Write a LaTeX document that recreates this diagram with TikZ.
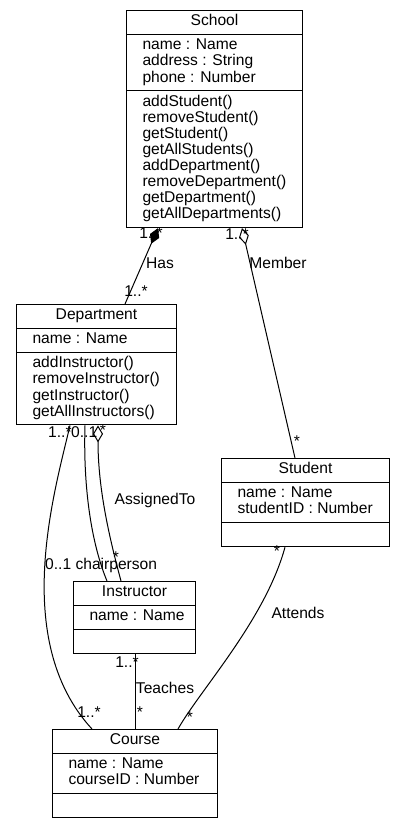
\documentclass[tikz,border=0pt]{standalone}
\usepackage{fontspec}
\setmainfont{Liberation Sans}
\usetikzlibrary{shapes.multipart,arrows.meta}
\newcommand{\umlfont}{\fontsize{15.6}{16}\selectfont}
\newcommand{\members}[1]{\begin{tabular}{@{\hspace{6pt}}l@{}}#1\end{tabular}}
\tikzset{
  umlclass/.style={draw, line width=1pt, rectangle split, rectangle split parts=3,
    rectangle split part align={center,left,left}, inner xsep=10pt, inner ysep=3.5pt,
    anchor=north west, font=\umlfont},
  mult/.style={inner sep=0pt, font=\umlfont},
  assoc/.style={line width=1pt},
}
\begin{document}
\begin{tikzpicture}[x=1pt,y=-1pt]
    \useasboundingbox (0,0) rectangle (405,829);
    % Classes
    \node[umlclass, minimum width=176pt] (school) at (126,10)
        {\strut School
         \nodepart{second}\members{name : Name\\ address : String\\ phone : Number}
         \nodepart{third}\members{addStudent()\\ removeStudent()\\ getStudent()\\ getAllStudents()\\
            addDepartment()\\ removeDepartment()\\ getDepartment()\\ getAllDepartments()}};
    \node[umlclass, minimum width=160pt] (department) at (16,304)
        {\strut Department
         \nodepart{second}\members{name : Name}
         \nodepart{third}\members{addInstructor()\\ removeInstructor()\\ getInstructor()\\ getAllInstructors()}};
    \node[umlclass, minimum width=168pt] (student) at (221,458)
        {\strut Student
         \nodepart{second}\members{name : Name\\ studentID : Number}
         \nodepart{third}\strut};
    \node[umlclass, minimum width=122pt] (instructor) at (73,581)
        {\strut Instructor
         \nodepart{second}\members{name : Name}
         \nodepart{third}\strut};
    \node[umlclass, minimum width=165pt] (course) at (52,729)
        {\strut Course
         \nodepart{second}\members{name : Name\\ courseID : Number}
         \nodepart{third}\strut};
    % Multiplicities and association names
    \node[mult] (hasS) at (151,233) {1..*};
    \node[mult] (hasD) at (136,291) {1..*};
    \node[mult] (has) at (160,263) {Has};
    \node[mult] (memS) at (237,234) {1..*};
    \node[mult] (member) at (278,263) {Member};
    \node[mult] (memT) at (297,441) {*};
    \node[mult, anchor=west] (dcD) at (48,432) {1..*};
    \node[mult, anchor=west] (chD) at (71,432) {0..1};
    \node[mult] (asD) at (103,430) {*};
    \node[mult] (assigned) at (155,500) {AssignedTo};
    \node[mult, anchor=west] (chI) at (45,565) {0..1 chairperson};
    \node[mult] (asI) at (116,557) {*};
    \node[mult] (dcC) at (89,712) {1..*};
    \node[mult] (tI) at (127,662) {1..*};
    \node[mult] (teaches) at (165,688) {Teaches};
    \node[mult] (tC) at (140,712) {*};
    \node[mult] (atS) at (277,551) {*};
    \node[mult] (attends) at (298,613) {Attends};
    \node[mult] (atC) at (190,717) {*};
    % Associations
    \draw[assoc, {Diamond[length=17pt,width=10pt]}-] ([xshift=32pt]school.south west) -- ([xshift=109pt]department.north west);
    \draw[assoc, {Diamond[open,length=17pt,width=10pt]}-] ([xshift=116pt]school.south west) -- ([xshift=74pt]student.north west);
    \draw[assoc] ([xshift=54pt]department.south west) .. controls (55,490) and (10,640) .. ([xshift=40pt]course.north west);
    \draw[assoc] ([xshift=69pt]department.south west) .. controls (83,490) and (92,545) .. ([xshift=34pt]instructor.north west);
    \draw[assoc, {Diamond[open,length=17pt,width=10pt]}-] ([xshift=82pt]department.south west) .. controls (98,490) and (110,540) .. ([xshift=48pt]instructor.north west);
    \draw[assoc] ([xshift=62pt]instructor.south west) -- ([xshift=83pt]course.north west);
    \draw[assoc] ([xshift=64pt]student.south west) .. controls (265,620) and (200,690) .. ([xshift=126pt]course.north west);
\end{tikzpicture}
\end{document}
